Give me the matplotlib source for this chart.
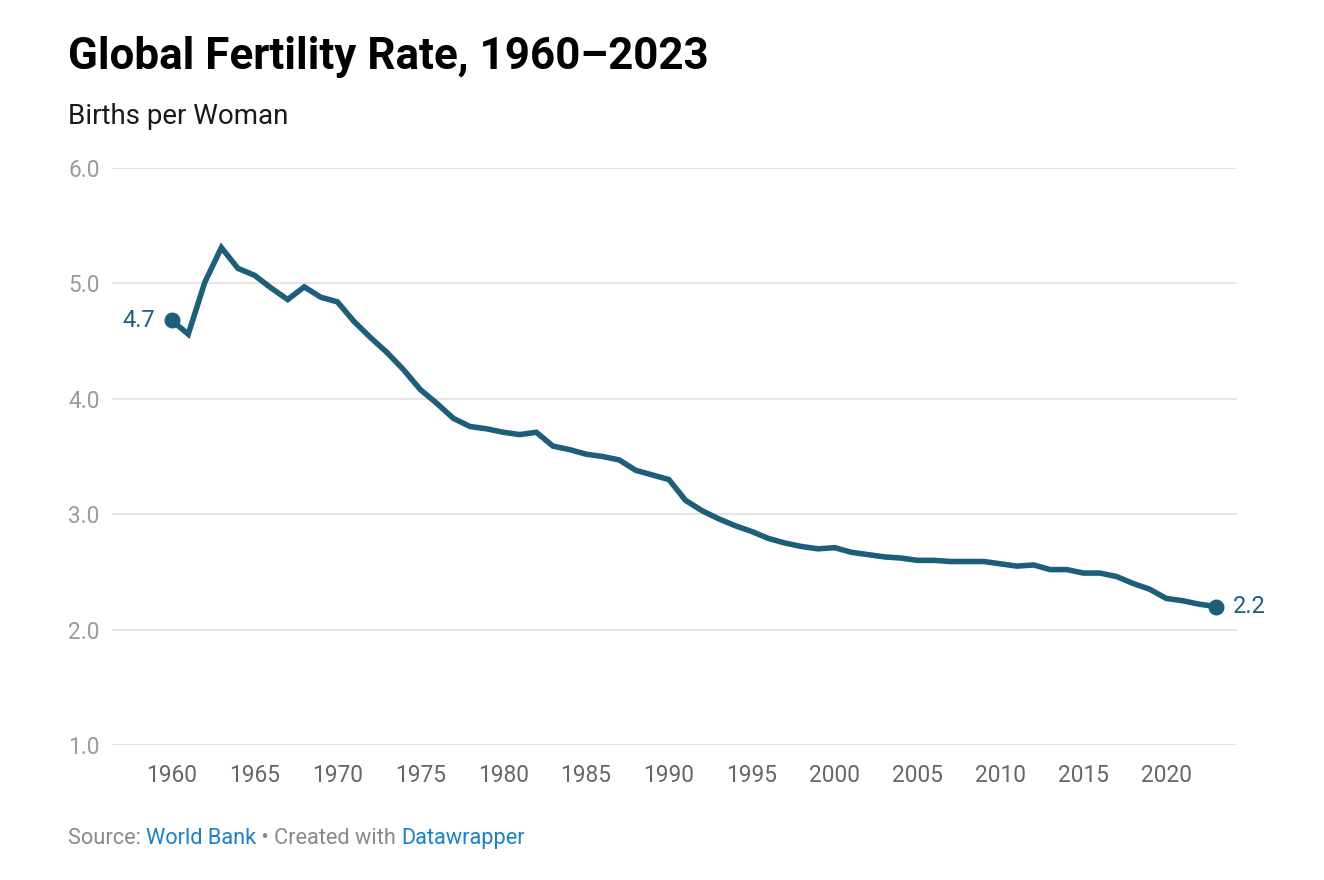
import matplotlib.pyplot as plt

# World Bank global fertility rate (births per woman)
years = list(range(1960, 2024))
fertility = [
    4.68, 4.56, 5.01, 5.31, 5.13, 5.07, 4.96, 4.86, 4.97, 4.88,
    4.84, 4.67, 4.53, 4.40, 4.25, 4.08, 3.96, 3.83, 3.76, 3.74,
    3.71, 3.69, 3.71, 3.59, 3.56, 3.52, 3.50, 3.47, 3.38, 3.34,
    3.30, 3.12, 3.03, 2.96, 2.90, 2.85, 2.79, 2.75, 2.72, 2.70,
    2.71, 2.67, 2.65, 2.63, 2.62, 2.60, 2.60, 2.59, 2.59, 2.59,
    2.57, 2.55, 2.56, 2.52, 2.52, 2.49, 2.49, 2.46, 2.40, 2.35,
    2.27, 2.25, 2.22, 2.20,
]
y_ticks = [1.0, 2.0, 3.0, 4.0, 5.0, 6.0]
x_ticks = list(range(1960, 2021, 5))

plt.rcParams['font.family'] = ['Roboto', 'DejaVu Sans']
line_color = "#1c5f7b"
grey = "#9a9a9a"

fig = plt.figure(figsize=(13.24, 8.8), dpi=100)
W, H = 1324, 880
ax = fig.add_axes([112 / W, 1 - 745 / H, (1237 - 112) / W, (745 - 168) / H])

ax.plot(years, fertility, color=line_color, lw=4.0, solid_joinstyle="miter", zorder=3)
ax.scatter([years[0], years[-1]], [fertility[0], fertility[-1]], s=110, color=line_color, zorder=4)
ax.annotate(f"{fertility[0]:.1f}", (years[0], fertility[0]), xytext=(-12, 0), textcoords="offset points",
            ha="right", va="center", fontsize=17, color=line_color)
ax.annotate(f"{fertility[-1]:.1f}", (years[-1], fertility[-1]), xytext=(12, 0), textcoords="offset points",
            ha="left", va="center", fontsize=17, color=line_color)

ax.set_xlim(1956.4, 2024.27)
ax.set_ylim(1.0, 6.0)
ax.set_yticks(y_ticks)
ax.set_yticklabels([f"{v:.1f}" for v in y_ticks])
ax.set_xticks(x_ticks)
ax.grid(axis="y", color="#e3e3e3", lw=1.3)
ax.set_axisbelow(True)
for s in ax.spines.values():
    s.set_visible(False)
ax.tick_params(axis="y", length=0, pad=9, labelsize=16.3, labelcolor=grey)
ax.tick_params(axis="x", length=0, pad=14, labelsize=16.3, labelcolor="#666666")

fig.text(68 / W, 1 - 57 / H, "Global Fertility Rate, 1960\u20132023", fontsize=31.7, fontweight="bold",
         va="center", ha="left", color="#000000")
fig.text(68 / W, 1 - 117 / H, "Births per Woman", fontsize=20, va="center", ha="left", color="#1a1a1a")

# footer with coloured links
src_y = 1 - 838 / H
t = fig.text(68 / W, src_y, "Source: ", fontsize=15.7, color="#888888", va="center")
fig.canvas.draw()
r = fig.canvas.get_renderer()
parts = [("World Bank", "#1a80cc"), (" \u2022 Created with ", "#888888"), ("Datawrapper", "#1a80cc")]
x = t.get_window_extent(r).x1
for txt, c in parts:
    t = fig.text(x / W, src_y, txt, fontsize=15.7, color=c, va="center")
    x = t.get_window_extent(r).x1

fig.savefig("out.png", dpi=100, facecolor="white")
